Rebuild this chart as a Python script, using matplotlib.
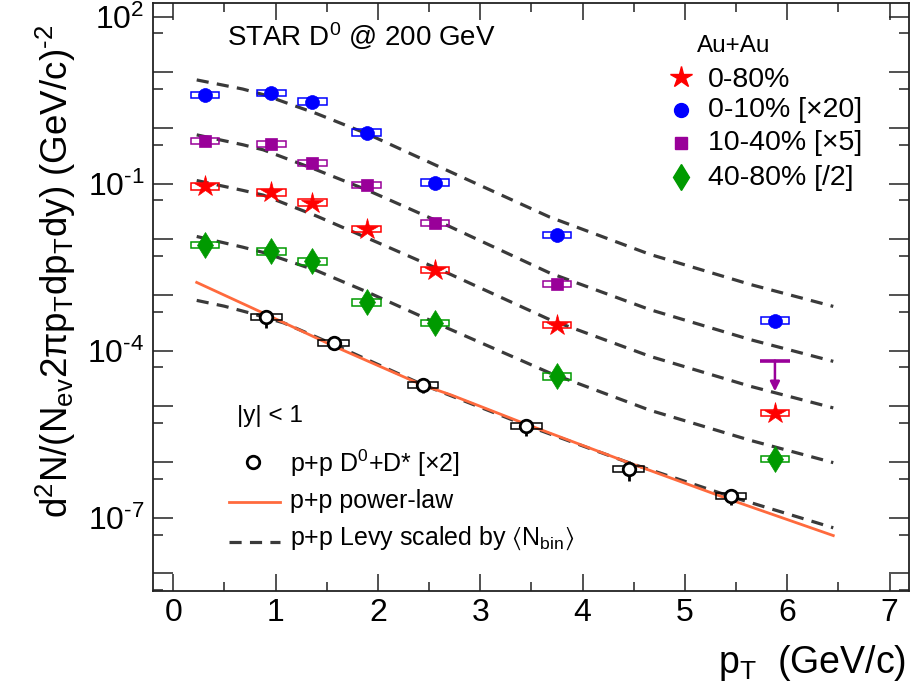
import numpy as np
import matplotlib
matplotlib.use("Agg")
import matplotlib.pyplot as plt
from matplotlib.patches import Rectangle
from matplotlib.ticker import FixedLocator, FuncFormatter, NullFormatter

plt.rcParams['font.family'] = ['Liberation Sans', 'DejaVu Sans']
plt.rcParams['mathtext.fontset'] = 'custom'
plt.rcParams['mathtext.rm'] = 'Liberation Sans'
plt.rcParams['mathtext.it'] = 'Liberation Sans:italic'
plt.rcParams['mathtext.bf'] = 'Liberation Sans:bold'
plt.rcParams['mathtext.default'] = 'regular'

# Au+Au D0 spectra, log10 of the invariant yield
pt_auau = [0.31, 0.96, 1.36, 1.89, 2.56, 3.75, 5.88]
log_0_80 = [-1.050, -1.158, -1.338, -1.809, -2.545, -3.532, -5.117]
log_0_10 = [0.595, 0.626, 0.475, -0.081, -0.979, -1.917, -3.460]
log_10_40 = [-0.230, -0.284, -0.631, -1.020, -1.707, -2.802]   # last bin is an upper limit
log_40_80 = [-2.097, -2.217, -2.396, -3.132, -3.502, -4.460, -5.942]
ul_10_40_pt = 5.88
ul_10_40 = [-4.178, -4.729]   # limit value, arrow tip
stat_auau = [0.08, 0.08, 0.1, 0.1, 0.12, 0.15, 0.2]   # relative

# p+p D0+D* [x2]
pt_pp = [0.91, 1.57, 2.44, 3.45, 4.45, 5.45]
log_pp = [-3.401, -3.860, -4.609, -5.350, -6.121, -6.613]
stat_pp = [0.35, 0.25, 0.3, 0.35, 0.4, 0.3]

# Levy curves (scaled by Nbin)
levy_pt = [0.23, 0.68, 0.88, 1.40, 1.89, 2.70, 3.68, 4.66, 5.64, 6.45]
levy_0_10 = [0.864, 0.70, 0.60, 0.26, -0.10, -0.78, -1.60, -2.27, -2.81, -3.204]
levy_10_40 = [-0.123, -0.30, -0.392, -0.751, -1.110, -1.768, -2.604, -3.263, -3.801, -4.191]
levy_0_80 = [-0.943, -1.12, -1.205, -1.58, -1.97, -2.62, -3.442, -4.101, -4.639, -5.027]
levy_40_80 = [-1.948, -2.14, -2.235, -2.56, -2.94, -3.61, -4.399, -5.07, -5.61, -6.01]
levy_pp_pt = [0.23, 0.50, 0.75, 0.91, 1.08, 1.57, 2.44, 3.45, 4.45, 5.45, 6.45]
levy_pp = [-3.096, -3.20, -3.322, -3.41, -3.50, -3.89, -4.61, -5.34, -6.01, -6.62, -7.18]

# p+p power-law fit
pl_pt = [0.23, 0.91, 1.57, 2.44, 2.71, 3.45, 4.45, 5.45, 6.45]
pl_val = [-2.773, -3.349, -3.918, -4.62, -4.79, -5.32, -6.01, -6.68, -7.32]

red = '#ff0000'
blue = '#0000ff'
purple = '#990099'
green = '#009a00'
orange = '#ff6a3d'
dashc = '#3a3a3a'

W, H = 913, 698
fig = plt.figure(figsize=(W / 100, H / 100), dpi=100)
x0, x1, y0, y1 = 152.7, 909.0, 3.3, 590.7
ax = fig.add_axes([x0 / W, 1 - y1 / H, (x1 - x0) / W, (y1 - y0) / H])
ax.set_yscale('log')
ax.set_xlim(-0.2, 7.19)
ax.set_ylim(10 ** -8.31, 10 ** 2.24)

dash_kw = dict(color=dashc, lw=2.3, dashes=(3.8, 2.6), zorder=2)
for ys in [levy_0_10, levy_10_40, levy_0_80, levy_40_80]:
    ax.plot(levy_pt, 10 ** np.array(ys), **dash_kw)
ax.plot(levy_pp_pt, 10 ** np.array(levy_pp), **dash_kw)
ax.plot(pl_pt, 10 ** np.array(pl_val), color=orange, lw=2.0, zorder=2.5)


def sys_boxes(xs, ys, color, half=0.14, fac=1.14):
    for x, y in zip(xs, ys):
        v = 10 ** y
        ax.add_patch(Rectangle((x - half, v / fac), 2 * half, v * fac - v / fac,
                               fill=False, ec=color, lw=1.1, zorder=3))


series = [
    (log_0_80, red, '*', 16),
    (log_0_10, blue, 'o', 10),
    (log_10_40, purple, 's', 9),
    (log_40_80, green, 'd', 13),
]
for ys, c, m, ms in series:
    xs = pt_auau[:len(ys)]
    vals = 10 ** np.array(ys)
    err = vals * np.array(stat_auau[:len(ys)])
    sys_boxes(xs, ys, c)
    ax.errorbar(xs, vals, yerr=err, fmt=m, color=c, ms=ms, mec=c, mew=0.5,
                elinewidth=1.5, capsize=0, zorder=4)

# upper limit for 10-40% last bin
ax.plot([ul_10_40_pt - 0.15, ul_10_40_pt + 0.15], [10 ** ul_10_40[0]] * 2,
        color=purple, lw=2.6, solid_capstyle='butt', zorder=4)
ax.annotate('', xy=(ul_10_40_pt, 10 ** ul_10_40[1]), xytext=(ul_10_40_pt, 10 ** ul_10_40[0]),
            arrowprops=dict(arrowstyle='-|>', color=purple, lw=1.8,
                            mutation_scale=14, shrinkA=0, shrinkB=0), zorder=4)

# p+p points
vals_pp = 10 ** np.array(log_pp)
sys_boxes(pt_pp, log_pp, 'black', half=0.15, fac=1.13)
ax.errorbar(pt_pp, vals_pp, yerr=vals_pp * np.array(stat_pp), fmt='o', ms=9,
            mfc='white', mec='black', mew=2.0, color='black', elinewidth=2.0,
            capsize=0, zorder=5)

# axes styling
for s in ax.spines.values():
    s.set_linewidth(1.3)
    s.set_color('#222222')
ax.xaxis.set_major_locator(FixedLocator(range(0, 8)))
ax.xaxis.set_minor_locator(FixedLocator(np.arange(0.5, 7.5, 1.0)))
ax.yaxis.set_major_locator(FixedLocator([10.0 ** e for e in range(-8, 3)]))
ax.yaxis.set_minor_locator(FixedLocator([5 * 10.0 ** e for e in range(-9, 2)]))


def ylab(v, pos):
    e = int(round(np.log10(v)))
    if e in (2, -1, -4, -7):
        if e < 0:
            return r'10$^{\text{-}%d}$' % (-e)
        return r'10$^{%d}$' % e
    return ''


ax.yaxis.set_major_formatter(FuncFormatter(ylab))
ax.yaxis.set_minor_formatter(NullFormatter())
ax.tick_params(which='both', direction='in', top=True, right=True, color='#222222', width=1.1)
ax.tick_params(axis='x', which='major', length=12, labelsize=23, pad=5)
ax.tick_params(axis='x', which='minor', length=6.5)
ax.tick_params(axis='y', which='major', length=14.5, labelsize=23, pad=6)
ax.tick_params(axis='y', which='minor', length=7.2)

fig.text(56 / W, 1 - 25 / H, r'd$^2$N/(N$_{ev}$2πp$_T$dp$_T$dy) (GeV/c)$^{\text{-}2}$',
         rotation=90, ha='center', va='top', fontsize=26.5)
fig.text(906 / W, 25 / H, r'p$_T$  (GeV/c)', ha='right', va='baseline', fontsize=27)

# text and legends
ax.text(0.0978, 0.9278, r'STAR D$^0$ @ 200 GeV', transform=ax.transAxes,
        fontsize=20, va='baseline')
ax.text(0.7197, 0.9176, 'Au+Au', transform=ax.transAxes, fontsize=17.5, va='baseline')
leg_rows = [
    ('*', red, 16, '0-80%', 0.8750, 0.8580),
    ('o', blue, 10, '0-10% [×20]', 0.8183, 0.8069),
    ('s', purple, 9, '10-40% [×5]', 0.7617, 0.7502),
    ('d', green, 13, '40-80% [/2]', 0.7048, 0.6906),
]
for m, c, ms, lab, ym, yt in leg_rows:
    ax.plot([0.6985], [ym], m, color=c, ms=ms, transform=ax.transAxes, clip_on=False)
    ax.text(0.7343, yt, lab, transform=ax.transAxes, fontsize=20.5, va='baseline')

ax.text(0.1111, 0.2877, '|y| < 1', transform=ax.transAxes, fontsize=17.5, va='baseline')
ax.plot([0.1330], [0.2196], 'o', ms=9, mfc='white', mec='black', mew=2.0,
        transform=ax.transAxes)
ax.text(0.1816, 0.2026, r'p+p D$^0$+D* [×2]', transform=ax.transAxes,
        fontsize=18, va='baseline')
ax.plot([0.1013, 0.1683], [0.1515, 0.1515], color=orange, lw=2.0, transform=ax.transAxes)
ax.text(0.1816, 0.1403, 'p+p power-law', transform=ax.transAxes, fontsize=18, va='baseline')
ax.plot([0.1013, 0.1683], [0.0834, 0.0834], transform=ax.transAxes, **dash_kw)
ax.text(0.1816, 0.0778, r'p+p Levy scaled by $\langle$N$_{bin}\rangle$',
        transform=ax.transAxes, fontsize=18, va='baseline')

fig.savefig('out.png', dpi=100)
